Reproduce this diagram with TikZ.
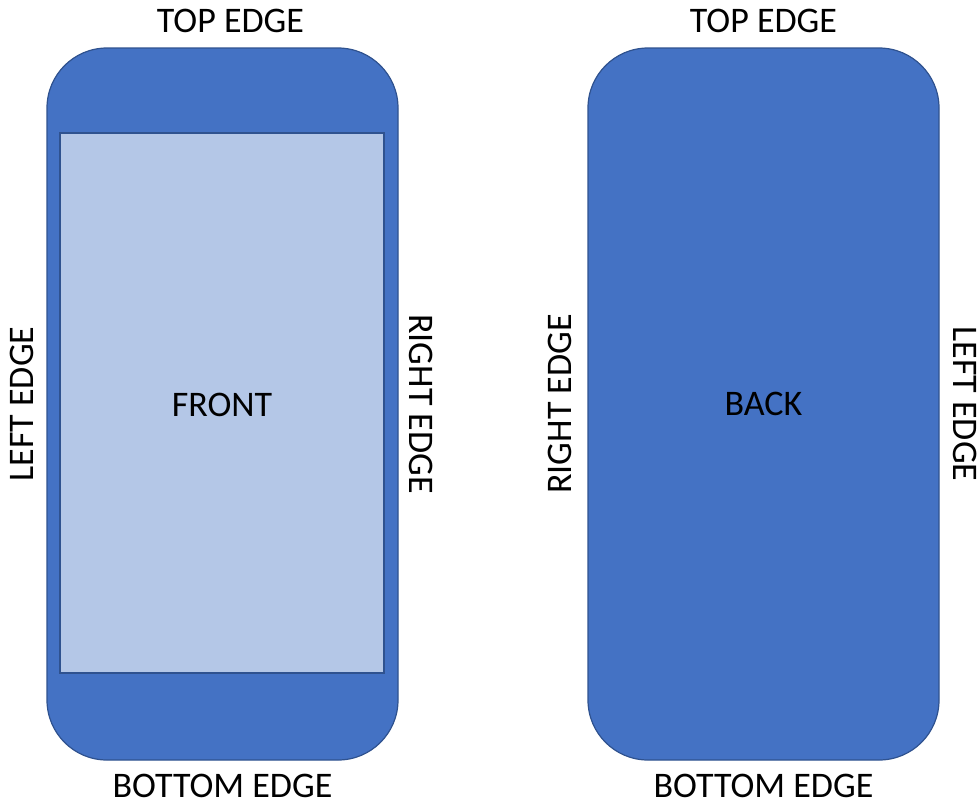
\documentclass[tikz,border=0pt]{standalone}
\usepackage{fontspec}
\setmainfont{Carlito}
\usetikzlibrary{positioning}
\definecolor{phoneblue}{HTML}{4472C4}
\definecolor{phoneline}{HTML}{2F528F}
\definecolor{screenblue}{HTML}{B4C7E7}
\begin{document}
\begin{tikzpicture}
    [
    x=1pt, y=-1pt,
    phone/.style={
      draw=phoneline,
      fill=phoneblue,
      line width=1.2pt,
      rounded corners=60pt,
      minimum width=351pt,
      minimum height=712pt,
      inner sep=0pt
    },
    screen/.style={
      draw=phoneline,
      fill=screenblue,
      line width=1.2pt,
      minimum width=324pt,
      minimum height=540pt,
      inner sep=0pt
    },
    edgelabel/.style={
      font=\fontsize{36}{43}\selectfont,
      inner sep=0pt
    }]
    \useasboundingbox (0,0) rectangle (979,801);
    % front side
    \node at (222.5,404) [phone] (frontphone) {};
    \node at (222,403) [screen] (frontscreen) {};
    \node at ([yshift=-2pt]frontscreen.center) [edgelabel] (fronttext) {FRONT};
    \node [edgelabel, above=14pt of frontphone, xshift=8pt] (fronttop) {TOP EDGE};
    \node [edgelabel, below=13pt of frontphone] (frontbottom) {BOTTOM EDGE};
    \node at ([xshift=-12pt]frontphone.west) [edgelabel, rotate=90, anchor=south] (frontleft) {LEFT EDGE};
    \node at ([xshift=10pt]frontphone.east) [edgelabel, rotate=-90, anchor=south] (frontright) {RIGHT EDGE};
    % back side
    \node at (763.5,404) [phone] (backphone) {};
    \node at (backphone.center) [edgelabel] (backtext) {BACK};
    \node [edgelabel, above=14pt of backphone] (backtop) {TOP EDGE};
    \node [edgelabel, below=13pt of backphone] (backbottom) {BOTTOM EDGE};
    \node at ([xshift=-15pt]backphone.west) [edgelabel, rotate=90, anchor=south] (backright) {RIGHT EDGE};
    \node at ([xshift=13pt]backphone.east) [edgelabel, rotate=-90, anchor=south] (backleft) {LEFT EDGE};
  \end{tikzpicture}
\end{document}
